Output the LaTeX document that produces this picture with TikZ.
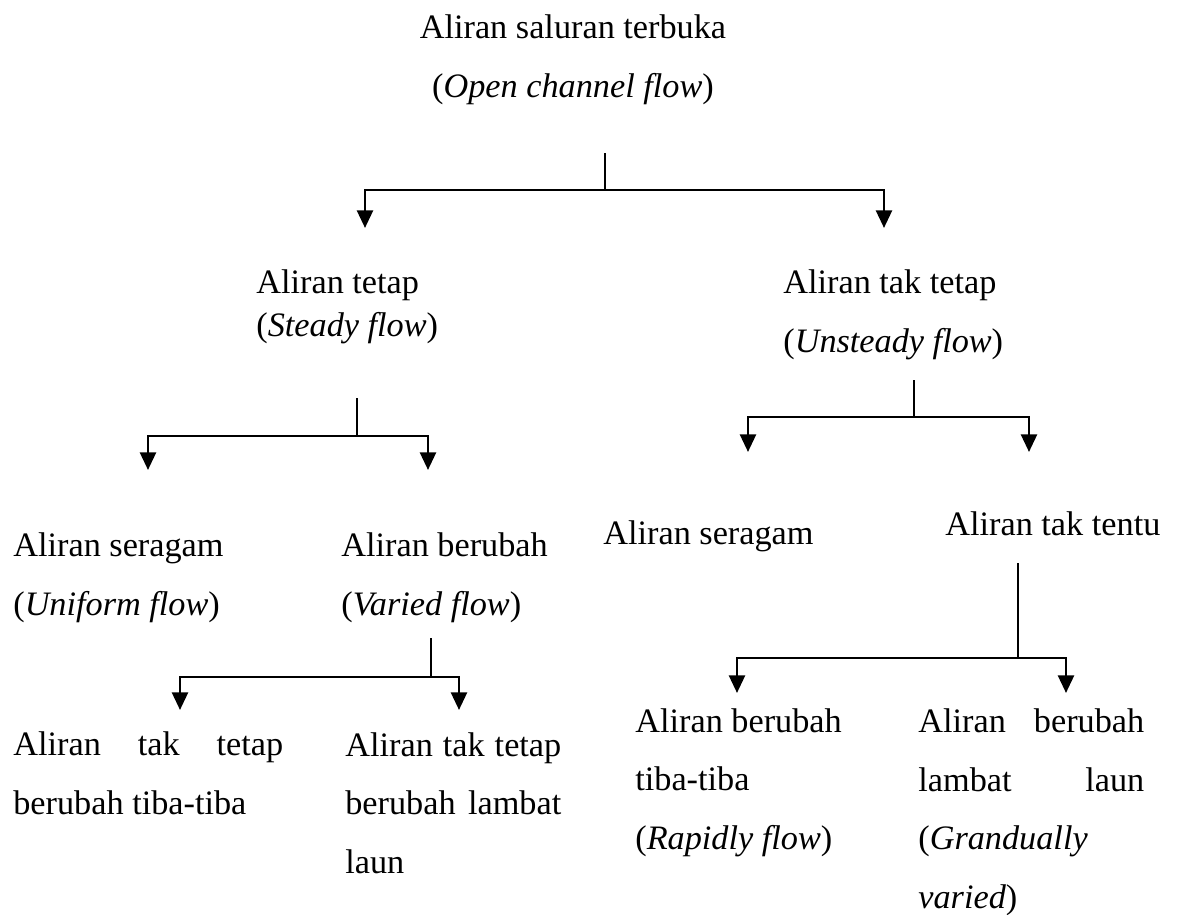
\documentclass[tikz,border=0pt]{standalone}
\usepackage{fontspec}
\setmainfont{Liberation Serif}
\usetikzlibrary{arrows.meta}

\tikzset{
  txt/.style={font=\fontsize{19.5}{33.3}\selectfont, inner sep=0pt, anchor=base west, align=left},
  link/.style={line width=1.6pt},
  arr/.style={line width=1.6pt, -{Triangle[width=9pt,length=10pt]}}
}

\begin{document}
\begin{tikzpicture}[x=0.02cm, y=-0.02cm]
\useasboundingbox (0,0) rectangle (1177,914);

% Root (anchored on its last line)
\node[txt, anchor=base, align=center] (root) at (573,97) {Aliran saluran terbuka\\(\textit{Open channel flow})};

% Level 1
\node[txt, font=\fontsize{19.5}{24}\selectfont] (steady) at (256,336) {Aliran tetap\\(\textit{Steady flow})};
\node[txt] (unsteady) at (783,352) {Aliran tak tetap\\(\textit{Unsteady flow})};

% Level 2
\node[txt] (uniform) at (13,615) {Aliran seragam\\(\textit{Uniform flow})};
\node[txt] (varied) at (341,615) {Aliran berubah\\(\textit{Varied flow})};
\node[txt] (seragam) at (603,544) {Aliran seragam};
\node[txt] (tentu) at (945,535) {Aliran tak tentu};

% Level 3
\node[txt] (suddenly) at (13,814) {\makebox[5.4cm][s]{Aliran tak tetap}\\berubah tiba-tiba};
\node[txt] (slowly) at (345,873) {\makebox[4.32cm][s]{Aliran tak tetap}\\\makebox[4.32cm][s]{berubah lambat}\\laun};
\node[txt] (rapid) at (635,849) {Aliran berubah\\tiba-tiba\\(\textit{Rapidly flow})};
\node[txt] (gradual) at (918,908) {\makebox[4.52cm][s]{Aliran berubah}\\\makebox[4.52cm][s]{lambat laun}\\(\textit{Grandually}\\\textit{varied})};

% Branch points
\coordinate (s0) at (605,153);  \coordinate (j0) at (605,190);
\coordinate (t0a) at (365,228); \coordinate (t0b) at (884,228);
\coordinate (s1) at (357,398);  \coordinate (j1) at (357,436);
\coordinate (t1a) at (148,470); \coordinate (t1b) at (428,470);
\coordinate (s2) at (914,380);  \coordinate (j2) at (914,417);
\coordinate (t2a) at (748,452); \coordinate (t2b) at (1029,452);
\coordinate (s3) at (431,638);  \coordinate (j3) at (431,677);
\coordinate (t3a) at (180,710); \coordinate (t3b) at (459,710);
\coordinate (s4) at (1018,563); \coordinate (j4) at (1018,658);
\coordinate (t4a) at (737,693); \coordinate (t4b) at (1066,693);

% Connectors
\foreach \i in {0,...,4}{
  \draw[link] (s\i) -- (j\i);
  \draw[arr] (j\i) -| (t\i a);
  \draw[arr] (j\i) -| (t\i b);
}
\end{tikzpicture}
\end{document}
